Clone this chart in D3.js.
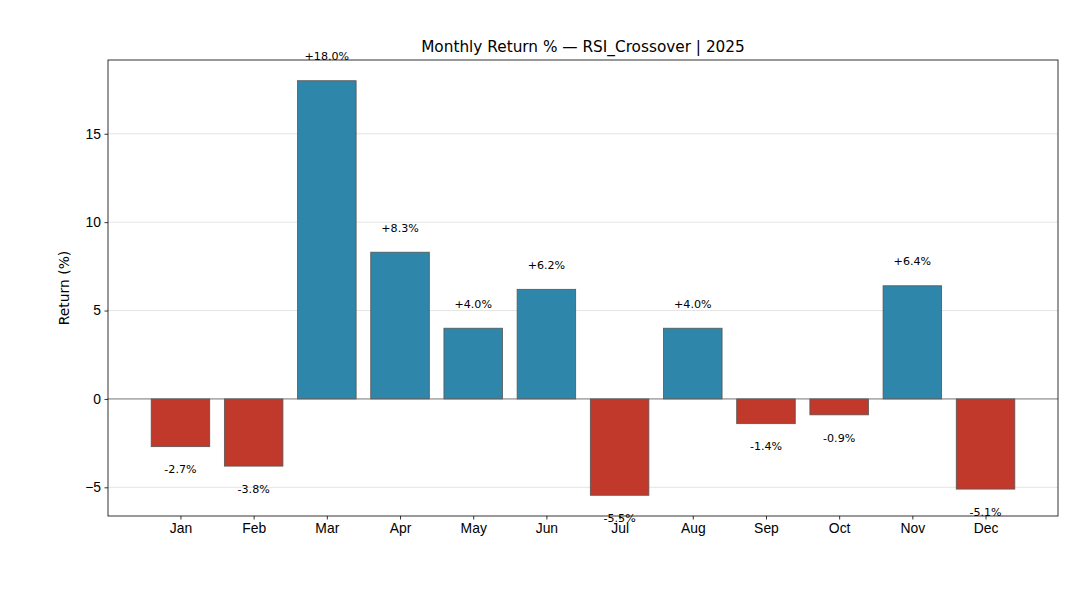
<!DOCTYPE html>
<html>
<head>
<meta charset="utf-8">
<script src="https://cdn.jsdelivr.net/npm/d3@7"></script>
<style>
  html, body {
    margin: 0;
    padding: 0;
    background: #ffffff;
  }

  #chart {
    display: block;
    font-family: "DejaVu Sans", sans-serif;
  }

  .axis text {
    fill: #000;
    font-size: 13.9px;
  }

  .axis path,
  .axis line {
    stroke: #000;
    stroke-width: 0.8px;
  }

  .grid line {
    stroke: #dddddd;
    stroke-width: 0.8px;
  }

  .value-label {
    font-size: 11.1px;
    fill: #000;
  }
</style>
</head>
<body>
<svg id="chart" width="1080" height="600"></svg>
<script>
const months = ["Jan", "Feb", "Mar", "Apr", "May", "Jun", "Jul", "Aug", "Sep", "Oct", "Nov", "Dec"];
const returns = [-2.7, -3.8, 18.0, 8.3, 4.0, 6.2, -5.45, 4.0, -1.4, -0.9, 6.4, -5.1];
const yTicks = [-5, 0, 5, 10, 15];

const width = 1080;
const height = 600;
const margin = { top: 60, right: 22, bottom: 84, left: 108 };
const plotW = width - margin.left - margin.right;
const plotH = height - margin.top - margin.bottom;

const svg = d3.select("#chart");

// matplotlib style: 5% padding around the data range
const lo = d3.min(returns);
const hi = d3.max(returns);
const pad = (hi - lo) * 0.05;

const x = d3
  .scaleLinear()
  .domain([-0.4 - 11.8 * 0.05, 11.4 + 11.8 * 0.05])
  .range([margin.left, margin.left + plotW]);

const y = d3
  .scaleLinear()
  .domain([lo - pad, hi + pad])
  .range([margin.top + plotH, margin.top]);

//=== Grid ===
svg
  .append("g")
  .attr("class", "grid")
  .selectAll("line")
  .data(yTicks)
  .join("line")
  .attr("x1", margin.left)
  .attr("x2", margin.left + plotW)
  .attr("y1", (d) => y(d))
  .attr("y2", (d) => y(d));

//=== Bars ===
const barW = x(0.8) - x(0);
svg
  .append("g")
  .selectAll("rect")
  .data(returns)
  .join("rect")
  .attr("x", (d, i) => x(i) - barW / 2)
  .attr("y", (d) => y(Math.max(0, d)))
  .attr("width", barW)
  .attr("height", (d) => Math.abs(y(d) - y(0)))
  .attr("fill", (d) => (d >= 0 ? "#2E86AB" : "#C0392B"))
  .attr("stroke", "#555555")
  .attr("stroke-width", 0.8);

//=== Zero line ===
svg
  .append("line")
  .attr("x1", margin.left)
  .attr("x2", margin.left + plotW)
  .attr("y1", y(0))
  .attr("y2", y(0))
  .attr("stroke", "#666666")
  .attr("stroke-width", 0.8);

//=== Value labels ===
svg
  .append("g")
  .selectAll("text")
  .data(returns)
  .join("text")
  .attr("class", "value-label")
  .attr("x", (d, i) => x(i))
  .attr("y", (d) => (d >= 0 ? y(d + 1) - 3 : y(d - 1) + 9))
  .attr("text-anchor", "middle")
  .text((d) => (d >= 0 ? "+" : "") + d.toFixed(1) + "%");

//=== Axes ===
svg
  .append("g")
  .attr("class", "axis")
  .attr("transform", `translate(0,${margin.top + plotH})`)
  .call(
    d3
      .axisBottom(x)
      .tickValues(d3.range(months.length))
      .tickFormat((i) => months[i])
      .tickSize(3.5)
      .tickPadding(3.5)
  )
  .call((g) => g.select(".domain").remove());

svg
  .append("g")
  .attr("class", "axis")
  .attr("transform", `translate(${margin.left},0)`)
  .call(d3.axisLeft(y).tickValues(yTicks).tickSize(3.5).tickPadding(3.5))
  .call((g) => g.select(".domain").remove());

//=== Frame ===
svg
  .append("rect")
  .attr("x", margin.left)
  .attr("y", margin.top)
  .attr("width", plotW)
  .attr("height", plotH)
  .attr("fill", "none")
  .attr("stroke", "#000")
  .attr("stroke-width", 0.8);

//=== Titles ===
svg
  .append("text")
  .attr("x", margin.left + plotW / 2)
  .attr("y", margin.top - 8)
  .attr("text-anchor", "middle")
  .style("font-size", "15.3px")
  .text("Monthly Return % \u2014 RSI_Crossover | 2025");

svg
  .append("text")
  .attr("transform", `translate(69,${margin.top + plotH / 2}) rotate(-90)`)
  .attr("text-anchor", "middle")
  .style("font-size", "13.9px")
  .text("Return (%)");
</script>
</body>
</html>
